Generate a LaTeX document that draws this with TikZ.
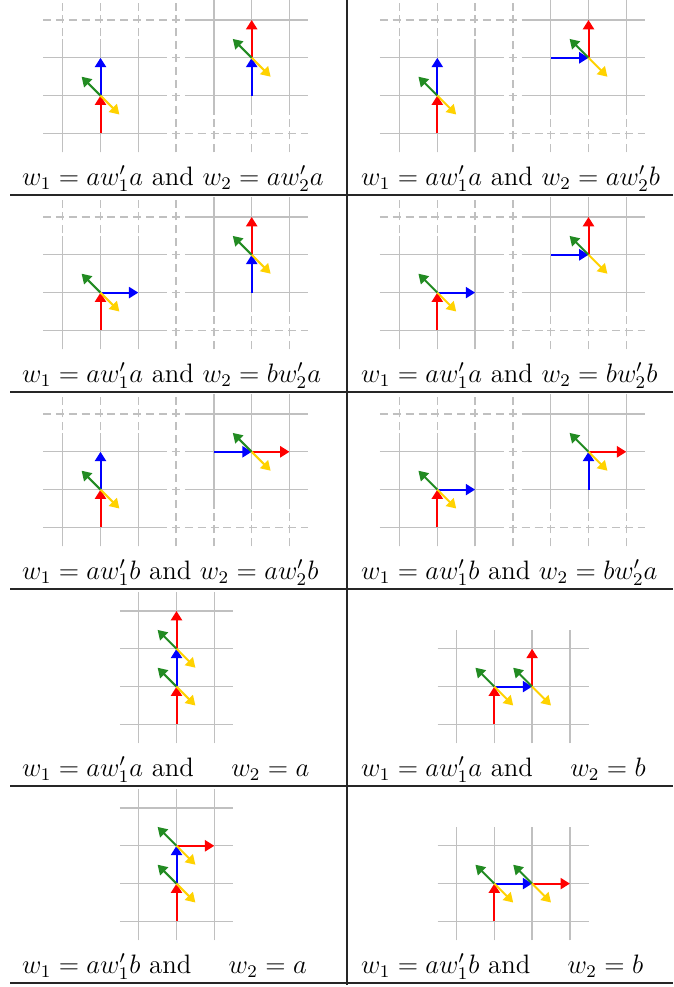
\documentclass[tikz,border=0pt]{standalone}
\usetikzlibrary{arrows.meta}
\definecolor{tred}{RGB}{255,0,0}
\definecolor{tblue}{RGB}{0,0,255}
\definecolor{tgreen}{RGB}{34,139,34}
\definecolor{tyellow}{RGB}{255,210,0}
\definecolor{tgrid}{RGB}{192,192,192}
\tikzset{
  gridsolid/.style={draw=tgrid,line width=0.6pt,step=1},
  griddash/.style={draw=tgrid,line width=0.6pt,step=1,dash pattern=on 3.6pt off 2.2pt},
  tarr/.style={line width=0.9pt,-{Triangle[length=4.2pt,width=5pt]}},
  redarr/.style={tarr,tred},
  bluearr/.style={tarr,tblue},
  greenarr/.style={tarr,tgreen},
  yellowarr/.style={tarr,tyellow},
  tablerule/.style={draw=black!85,line width=0.6pt},
  lbl/.style={anchor=base west,inner sep=0pt,font=\fontsize{12}{14}\selectfont}
}
% fork of diagonal arrows at a point
\newcommand\tfork[2]{%
  \draw[greenarr] (#1,#2) -- ++(-0.5,0.5);
  \draw[yellowarr] (#1,#2) -- ++(0.5,-0.5);}
% pair of grids (two pictures side by side)
\newcommand\pairgrids{%
  \draw[gridsolid] (-1.52,-0.5) grid (1.65,2.5);
  \draw[gridsolid] (2.3,0.5) grid (5.5,3.53);
  \draw[griddash] (-1.52,-0.5) grid (5.5,3.53);}
% first picture: red up, then blue up (v) or right (h)
\newcommand\picAv{%
  \draw[redarr] (0,0) -- (0,1);
  \draw[bluearr] (0,1) -- (0,2);
  \tfork{0}{1}}
\newcommand\picAh{%
  \draw[redarr] (0,0) -- (0,1);
  \draw[bluearr] (0,1) -- (1,1);
  \tfork{0}{1}}
% second picture: blue in (#1: v from below / h from left), red out (#2: v up / h right)
\newcommand\picB[2]{%
  \if#1v\draw[bluearr] (4,1) -- (4,2);\else\draw[bluearr] (3,2) -- (4,2);\fi
  \if#2v\draw[redarr] (4,2) -- (4,3);\else\draw[redarr] (4,2) -- (5,2);\fi
  \tfork{4}{2}}
\begin{document}
\begin{tikzpicture}[x=0.45pt,y=-0.45pt]
\useasboundingbox (0,0) rectangle (673,987);
\fill[white] (0,0) rectangle (673,987);
% ---------- row 1
\begin{scope}[shift={(100.5,133.4)},x=17.01pt,y=17.01pt]
  \pairgrids \picAv \picB{v}{v}
\end{scope}
\begin{scope}[shift={(437.3,133.4)},x=17.01pt,y=17.01pt]
  \pairgrids \picAv \picB{h}{v}
\end{scope}
\node[lbl] (t1l) at (21.7,185) {$w_1 = aw'_1a$ and $w_2 = aw'_2a$};
\node[lbl] (t1r) at (360.7,185) {$w_1 = aw'_1a$ and $w_2 = aw'_2b$};
% ---------- row 2
\begin{scope}[shift={(100.5,330.4)},x=17.01pt,y=17.01pt]
  \pairgrids \picAh \picB{v}{v}
\end{scope}
\begin{scope}[shift={(437.3,330.4)},x=17.01pt,y=17.01pt]
  \pairgrids \picAh \picB{h}{v}
\end{scope}
\node[lbl] (t2l) at (21.7,382) {$w_1 = aw'_1a$ and $w_2 = bw'_2a$};
\node[lbl] (t2r) at (360.7,382) {$w_1 = aw'_1a$ and $w_2 = bw'_2b$};
% ---------- row 3
\begin{scope}[shift={(100.5,527.4)},x=17.01pt,y=17.01pt]
  \pairgrids \picAv \picB{h}{h}
\end{scope}
\begin{scope}[shift={(437.3,527.4)},x=17.01pt,y=17.01pt]
  \pairgrids \picAh \picB{v}{h}
\end{scope}
\node[lbl] (t3l) at (21.7,579) {$w_1 = aw'_1b$ and $w_2 = aw'_2b$};
\node[lbl] (t3r) at (360.7,579) {$w_1 = aw'_1b$ and $w_2 = bw'_2a$};
% ---------- row 4
\begin{scope}[shift={(176.5,724.4)},x=17.01pt,y=17.01pt]
  \draw[gridsolid] (-1.5,-0.5) grid (1.5,3.5);
  \draw[redarr] (0,0) -- (0,1);
  \draw[bluearr] (0,1) -- (0,2);
  \draw[redarr] (0,2) -- (0,3);
  \tfork{0}{1} \tfork{0}{2}
\end{scope}
\begin{scope}[shift={(494.3,724.4)},x=17.01pt,y=17.01pt]
  \draw[gridsolid] (-1.5,-0.5) grid (2.5,2.5);
  \draw[redarr] (0,0) -- (0,1);
  \draw[bluearr] (0,1) -- (1,1);
  \draw[redarr] (1,1) -- (1,2);
  \tfork{0}{1} \tfork{1}{1}
\end{scope}
\node[lbl] (t4l) at (21.7,776) {$w_1 = aw'_1a$ and \hspace{9pt} $w_2 = a$};
\node[lbl] (t4r) at (360.7,776) {$w_1 = aw'_1a$ and \hspace{9pt} $w_2 = b$};
% ---------- row 5
\begin{scope}[shift={(176.5,921.4)},x=17.01pt,y=17.01pt]
  \draw[gridsolid] (-1.5,-0.5) grid (1.5,3.5);
  \draw[redarr] (0,0) -- (0,1);
  \draw[bluearr] (0,1) -- (0,2);
  \draw[redarr] (0,2) -- (1,2);
  \tfork{0}{1} \tfork{0}{2}
\end{scope}
\begin{scope}[shift={(494.3,921.4)},x=17.01pt,y=17.01pt]
  \draw[gridsolid] (-1.5,-0.5) grid (2.5,2.5);
  \draw[redarr] (0,0) -- (0,1);
  \draw[bluearr] (0,1) -- (1,1);
  \draw[redarr] (1,1) -- (2,1);
  \tfork{0}{1} \tfork{1}{1}
\end{scope}
\node[lbl] (t5l) at (21.7,973) {$w_1 = aw'_1b$ and \hspace{9pt} $w_2 = a$};
\node[lbl] (t5r) at (360.7,973) {$w_1 = aw'_1b$ and \hspace{9pt} $w_2 = b$};
% ---------- table rules
\coordinate (vtop) at (347,0);
\coordinate (vbot) at (347,985);
\draw[tablerule] (vtop) -- (vbot);
\foreach \yy in {195,392,589,786,983}{
  \draw[tablerule] (10,\yy) -- (673,\yy);
}
\end{tikzpicture}
\end{document}
